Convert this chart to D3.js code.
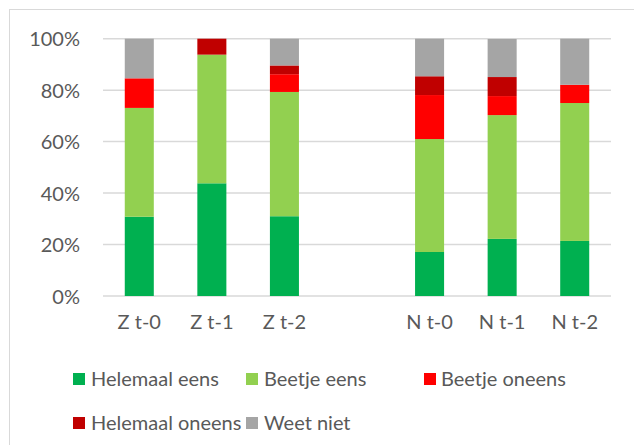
<!DOCTYPE html>
<html>
<head>
<meta charset="utf-8">
<script src="https://cdn.jsdelivr.net/npm/d3@7"></script>
<style>
  html, body { margin: 0; padding: 0; background: #fff; }
  svg { display: block; }
  text { font-family: Lato, "Open Sans", sans-serif; fill: #595959; }
</style>
</head>
<body>
<svg id="chart" width="634" height="445"></svg>
<script>
// ---- data (percent) ----
const categories = ["Z t-0", "Z t-1", "Z t-2", "N t-0", "N t-1", "N t-2"];
const slots = ["Z t-0", "Z t-1", "Z t-2", "", "N t-0", "N t-1", "N t-2"];
const seriesNames = ["Helemaal eens", "Beetje eens", "Beetje oneens", "Helemaal oneens", "Weet niet"];
const helemaalEens   = [30.8, 43.8, 31.0, 17.1, 22.2, 21.4];
const beetjeEens     = [42.3, 50.0, 48.3, 43.9, 48.1, 53.6];
const beetjeOneens   = [11.5,  0.0,  6.9, 17.1,  7.4,  7.1];
const helemaalOneens = [ 0.0,  6.2,  3.4,  7.3,  7.4,  0.0];
const weetNiet       = [15.4,  0.0, 10.4, 14.6, 14.8, 17.9];
const yTicks = [0, 20, 40, 60, 80, 100];
const colors = ["#00b050", "#92d050", "#ff0000", "#c00000", "#a5a5a5"];

const seriesValues = [helemaalEens, beetjeEens, beetjeOneens, helemaalOneens, weetNiet];
const table = categories.map((c, i) => {
  const row = { cat: c };
  seriesNames.forEach((s, k) => row[s] = seriesValues[k][i]);
  return row;
});

const svg = d3.select("#chart");
const FS = 20;

// outer border
svg.append("rect")
  .attr("x", 9.5).attr("y", 9.5)
  .attr("width", 700).attr("height", 500)
  .attr("fill", "none").attr("stroke", "#d9d9d9").attr("stroke-width", 1);

const x = d3.scaleBand().domain(slots).range([103, 611]).paddingInner(0.6).paddingOuter(0.3);
const y = d3.scaleLinear().domain([0, 100]).range([296, 38.7]);

// gridlines
svg.append("g").selectAll("line").data(yTicks).join("line")
  .attr("x1", 103).attr("x2", 611)
  .attr("y1", d => y(d)).attr("y2", d => y(d))
  .attr("stroke", "#d9d9d9").attr("stroke-width", 1.5);

// y labels
const yAxis = d3.axisLeft(y).tickValues(yTicks).tickFormat(d => d + "%").tickSize(0).tickPadding(0);
const gy = svg.append("g").attr("transform", "translate(80,0)").call(yAxis);
gy.select(".domain").remove();
gy.selectAll("text").attr("font-size", FS).attr("fill", "#595959")
  .style("font-family", "Lato, sans-serif").attr("dy", "0.35em");

// stacked bars
const stack = d3.stack().keys(seriesNames);
const stacked = stack(table);
svg.append("g").selectAll("g").data(stacked).join("g")
  .attr("fill", (d, i) => colors[i])
  .selectAll("rect").data(d => d).join("rect")
  .attr("x", d => x(d.data.cat))
  .attr("width", x.bandwidth())
  .attr("y", d => y(d[1]))
  .attr("height", d => y(d[0]) - y(d[1]));

// x labels
const xAxis = d3.axisBottom(x).tickSize(0).tickPadding(0);
const gx = svg.append("g").attr("transform", "translate(0,315)").call(xAxis);
gx.select(".domain").remove();
gx.selectAll("text").attr("font-size", FS).attr("fill", "#595959")
  .style("font-family", "Lato, sans-serif").attr("dy", "0.71em");

// legend
const legendPos = [
  { mx: 73, tx: 91, y: 379 },
  { mx: 246, tx: 264, y: 379 },
  { mx: 424, tx: 441, y: 379 },
  { mx: 73, tx: 91, y: 423 },
  { mx: 246, tx: 264, y: 423 }
];
const lg = svg.append("g");
seriesNames.forEach((s, i) => {
  const p = legendPos[i];
  lg.append("rect").attr("x", p.mx).attr("y", p.y - 6).attr("width", 12).attr("height", 12).attr("fill", colors[i]);
  lg.append("text").attr("x", p.tx).attr("y", p.y).attr("dy", "0.35em")
    .attr("font-size", FS).text(s);
});
</script>
</body>
</html>
